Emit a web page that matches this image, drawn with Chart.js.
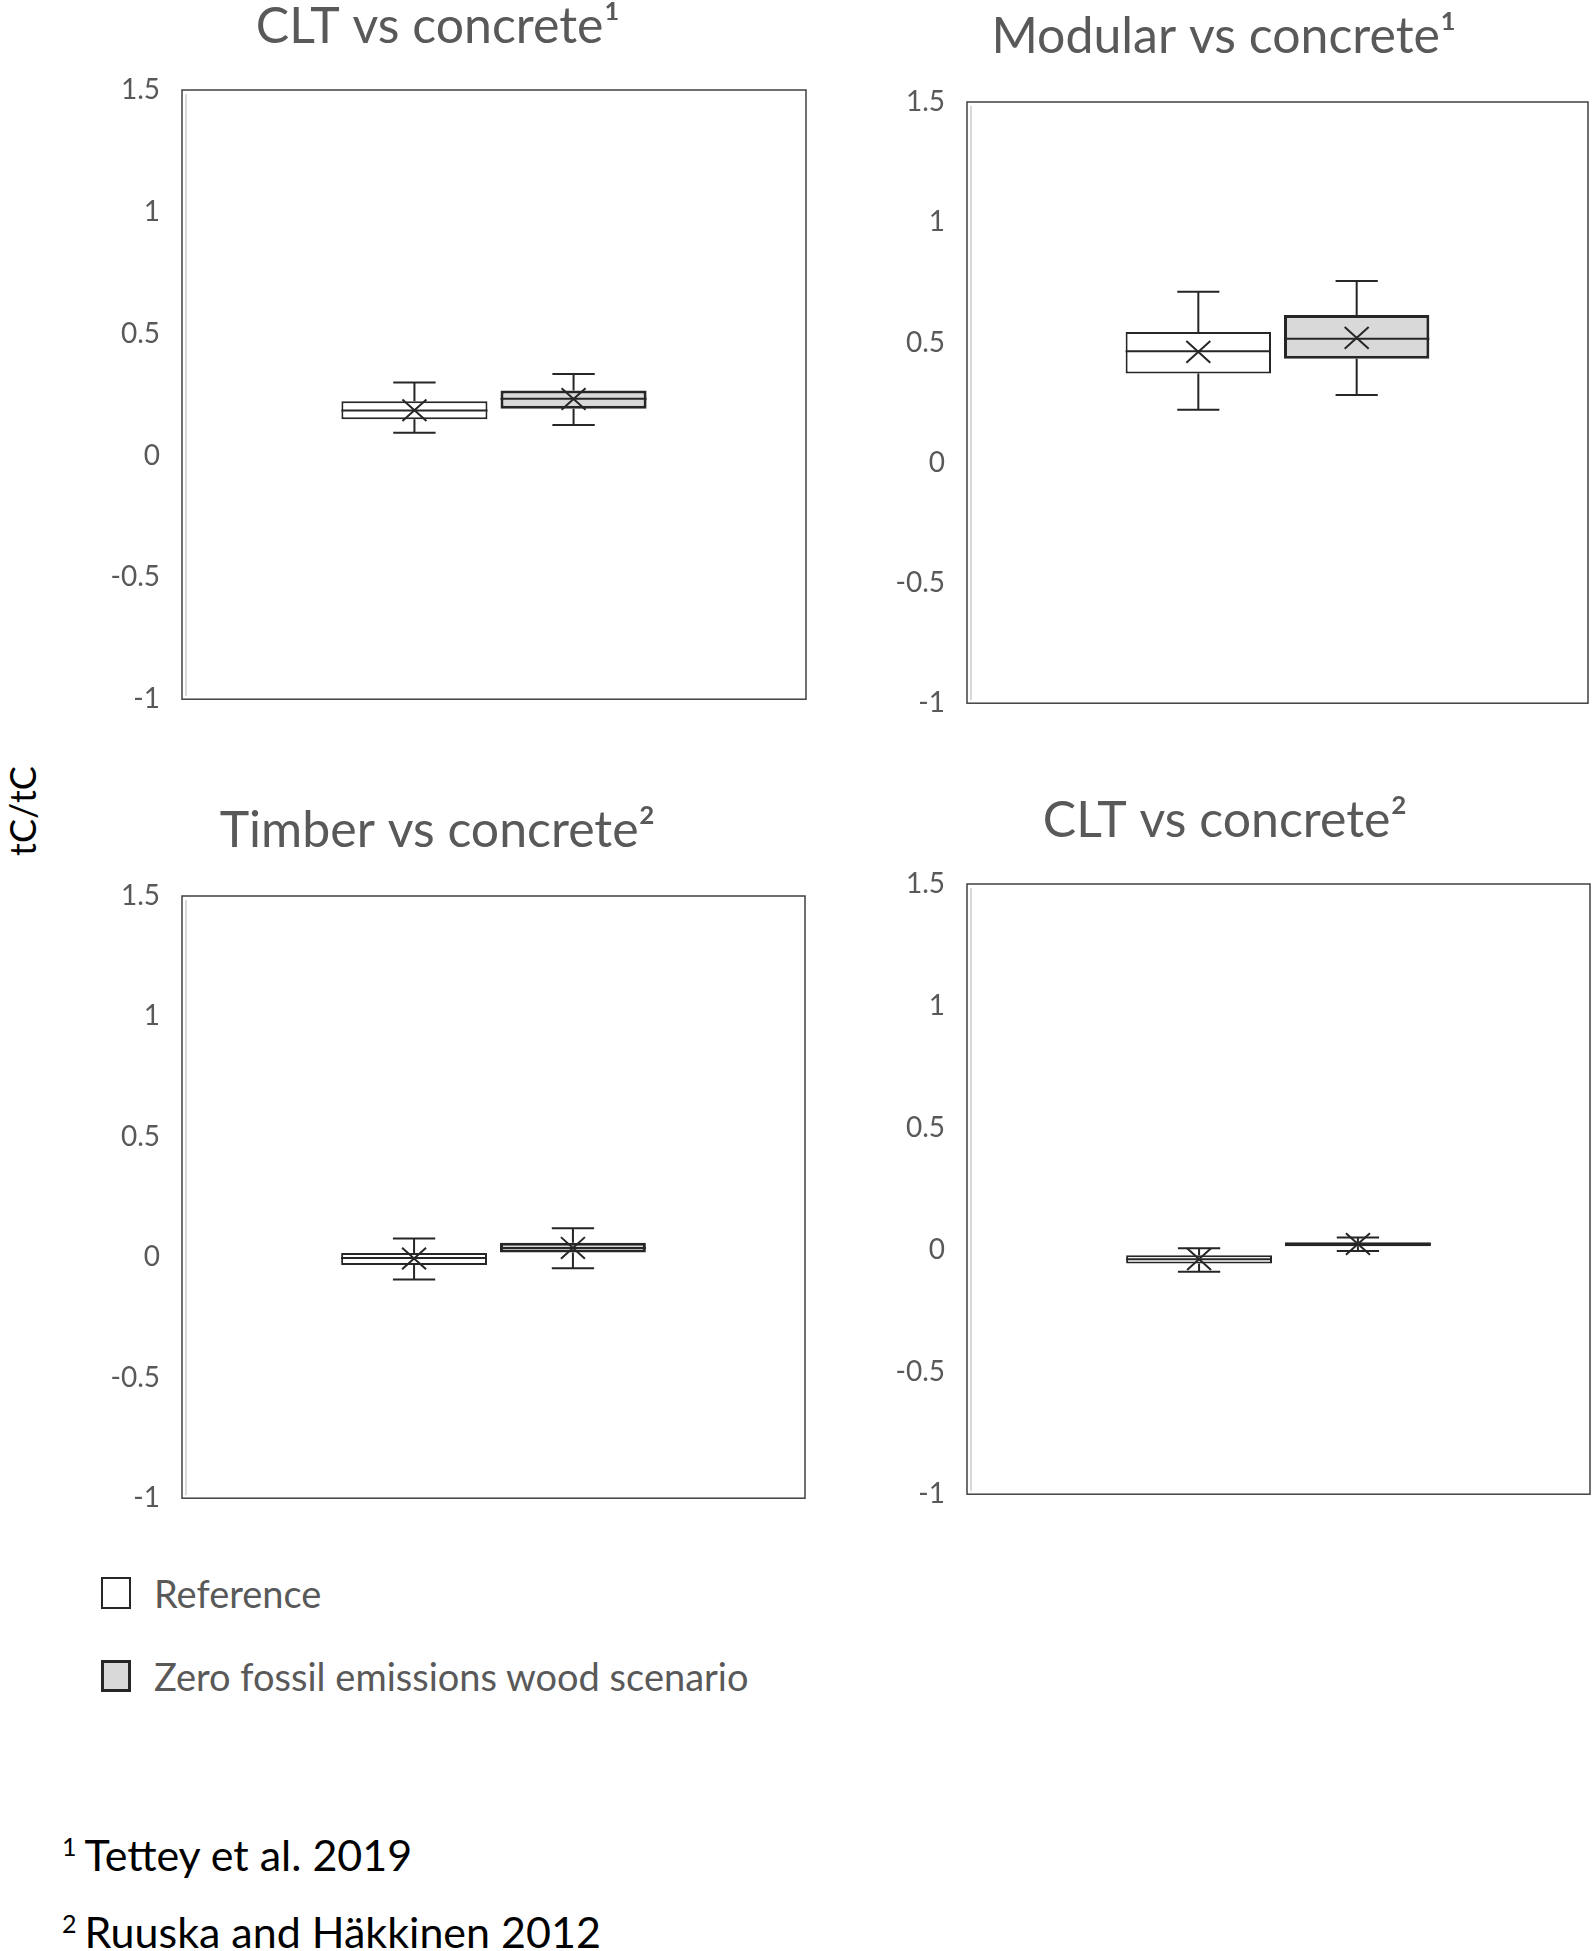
<!DOCTYPE html>
<html lang="en">
<head>
  <meta charset="UTF-8" />
  <title>tC/tC box plots</title>
  <script src="https://cdn.jsdelivr.net/npm/chart.js"></script>
  <style>
    body {
      margin: 0;
      background: #fff;
      width: 1594px;
      height: 1951px;
      position: relative;
      overflow: hidden;
      font-family: 'Lato', sans-serif;
    }
    .panel { position: absolute; }
    #ylabel {
      position: absolute;
      left: 22px;
      top: 811px;
      transform: translate(-50%, -50%) rotate(-90deg);
      font-size: 36px;
      color: #000;
      white-space: nowrap;
    }
    .legend-item {
      position: absolute;
      left: 101px;
      display: flex;
      align-items: center;
      transform: translateY(-50%);
      font-size: 38px;
      color: #595959;
      white-space: nowrap;
    }
    .swatch {
      width: 30px;
      height: 32px;
      box-sizing: border-box;
      border: 2px solid #262626;
      margin-right: 23px;
    }
    .note {
      position: absolute;
      left: 62px;
      transform: translateY(-50%);
      font-size: 43px;
      color: #000;
      white-space: nowrap;
    }
    .note sup { font-size: 25px; margin-right: 8px; }
  </style>
</head>
<body>
  <div id="ylabel">tC/tC</div>
  <div id="charts"></div>
  <div id="legend"></div>
  <div id="notes"></div>

  <script>
    // data, one entry per panel: [Reference, Zero fossil]
    const seriesNames = ['Reference', 'Zero fossil emissions wood scenario'];
    const panelTitles = ['CLT vs concrete¹', 'Modular vs concrete¹', 'Timber vs concrete²', 'CLT vs concrete²'];
    const yTicks = [-1, -0.5, 0, 0.5, 1, 1.5];
    const whiskerMin = [[0.093, 0.125], [0.220, 0.282], [-0.092, -0.045], [-0.089, -0.004]];
    const q1 = [[0.149, 0.192], [0.371, 0.432], [-0.032, 0.020], [-0.055, 0.016]];
    const median = [[0.185, 0.233], [0.464, 0.515], [-0.003, 0.039], [-0.037, 0.024]];
    const q3 = [[0.223, 0.267], [0.544, 0.614], [0.018, 0.061], [-0.021, 0.032]];
    const whiskerMax = [[0.300, 0.335], [0.711, 0.756], [0.078, 0.121], [0.008, 0.052]];
    const mean = [[0.186, 0.232], [0.461, 0.519], [-0.005, 0.039], [-0.037, 0.025]];
    const footnotes = ['Tettey et al. 2019', 'Ruuska and Häkkinen 2012'];

    const fills = ['#ffffff', '#d9d9d9'];
    const lineColor = '#262626';
    const greyText = '#595959';

    // page placement of each panel (pixels)
    const layout = [
      { left: 70,  right: 816,  plotLeft: 182, plotRight: 806,  titleY: 27,  plotTop: 90,  plotBottom: 699 },
      { left: 860, right: 1594, plotLeft: 967, plotRight: 1588, titleY: 37,  plotTop: 102, plotBottom: 703 },
      { left: 70,  right: 816,  plotLeft: 182, plotRight: 805,  titleY: 831, plotTop: 896, plotBottom: 1498 },
      { left: 860, right: 1594, plotLeft: 967, plotRight: 1590, titleY: 821, plotTop: 884, plotBottom: 1494 }
    ];
    const titleSize = 50;
    const titleH = titleSize * 1.2;
    const tickSize = 28;
    const tickPad = 22;
    // the y axis reserves half a label plus the tick padding below the plot
    const axisBottom = tickSize * 1.2 / 2 + tickPad;

    const boxParts = {
      id: 'boxParts',
      afterDatasetsDraw(chart) {
        const { ctx, chartArea: a, scales: { y } } = chart;
        const p = chart.options.plugins.boxParts.panel;
        // plot frame + faint axis line
        ctx.save();
        ctx.strokeStyle = '#404040';
        ctx.lineWidth = 1.5;
        ctx.strokeRect(a.left, a.top, a.width, a.height);
        ctx.strokeStyle = '#d9d9d9';
        ctx.lineWidth = 2;
        ctx.beginPath();
        ctx.moveTo(a.left + 4, a.top + 4);
        ctx.lineTo(a.left + 4, a.bottom - 3);
        ctx.stroke();

        chart.data.datasets.forEach((ds, i) => {
          const bar = chart.getDatasetMeta(i).data[0];
          const x = bar.x, w = bar.width, cap = w * 0.145;
          ctx.strokeStyle = lineColor;
          ctx.lineWidth = 2;
          const yMin = y.getPixelForValue(whiskerMin[p][i]);
          const yMax = y.getPixelForValue(whiskerMax[p][i]);
          const yQ1 = y.getPixelForValue(q1[p][i]);
          const yQ3 = y.getPixelForValue(q3[p][i]);
          const yMed = y.getPixelForValue(median[p][i]);
          ctx.beginPath();
          ctx.moveTo(x, yQ3); ctx.lineTo(x, yMax);
          ctx.moveTo(x - cap, yMax); ctx.lineTo(x + cap, yMax);
          ctx.moveTo(x, yQ1); ctx.lineTo(x, yMin);
          ctx.moveTo(x - cap, yMin); ctx.lineTo(x + cap, yMin);
          ctx.moveTo(x - w / 2, yMed); ctx.lineTo(x + w / 2, yMed);
          ctx.stroke();
          // mean marker
          const ym = y.getPixelForValue(mean[p][i]);
          const r = 12;
          ctx.beginPath();
          ctx.moveTo(x - r, ym - r * 0.9); ctx.lineTo(x + r, ym + r * 0.9);
          ctx.moveTo(x - r, ym + r * 0.9); ctx.lineTo(x + r, ym - r * 0.9);
          ctx.stroke();
        });
        ctx.restore();
      }
    };

    const chartsDiv = document.getElementById('charts');
    layout.forEach((L, p) => {
      const top = L.titleY - titleH / 2;
      const width = L.right - L.left;
      const height = Math.round(L.plotBottom + axisBottom - top);
      const div = document.createElement('div');
      div.className = 'panel';
      div.style.left = L.left + 'px';
      div.style.top = top + 'px';
      div.style.width = width + 'px';
      div.style.height = height + 'px';
      const canvas = document.createElement('canvas');
      canvas.width = width;
      canvas.height = height;
      div.appendChild(canvas);
      chartsDiv.appendChild(div);

      new Chart(canvas, {
        type: 'bar',
        data: {
          labels: [''],
          datasets: seriesNames.map((name, i) => ({
            label: name,
            data: [[q1[p][i], q3[p][i]]],
            backgroundColor: fills[i],
            borderColor: lineColor,
            borderWidth: i === 0 ? 2 : 3,
            borderSkipped: false,
            categoryPercentage: 0.51,
            barPercentage: 0.918
          }))
        },
        options: {
          responsive: false,
          animation: false,
          layout: { padding: { left: 0, right: L.right - L.plotRight, top: 0, bottom: 0 } },
          plugins: {
            legend: { display: false },
            tooltip: { enabled: false },
            title: {
              display: true,
              text: panelTitles[p],
              color: greyText,
              font: { family: 'Lato', size: titleSize, weight: 'normal', lineHeight: 1.2 },
              padding: { top: 0, bottom: L.plotTop - L.titleY - titleH / 2 }
            },
            boxParts: { panel: p }
          },
          scales: {
            x: { display: false },
            y: {
              min: yTicks[0],
              max: yTicks[yTicks.length - 1],
              afterBuildTicks: s => { s.ticks = yTicks.map(v => ({ value: v })); },
              afterFit: s => { s.width = L.plotLeft - L.left; },
              grid: { display: false, drawTicks: false },
              border: { display: false },
              ticks: {
                padding: tickPad,
                color: greyText,
                font: { family: 'Lato', size: tickSize, lineHeight: 1.2 },
                callback: v => String(v)
              }
            }
          }
        },
        plugins: [boxParts]
      });
    });

    // legend
    const legendY = [1593, 1676];
    const legendDiv = document.getElementById('legend');
    seriesNames.forEach((name, i) => {
      const item = document.createElement('div');
      item.className = 'legend-item';
      item.style.top = legendY[i] + 'px';
      item.innerHTML = `<span class="swatch" style="background:${fills[i]};border-width:${i === 0 ? 2 : 3}px"></span>${name}`;
      legendDiv.appendChild(item);
    });

    // footnotes
    const noteY = [1854, 1931];
    const notesDiv = document.getElementById('notes');
    footnotes.forEach((t, i) => {
      const n = document.createElement('div');
      n.className = 'note';
      n.style.top = noteY[i] + 'px';
      n.innerHTML = `<sup>${i + 1}</sup>${t}`;
      notesDiv.appendChild(n);
    });
  </script>
</body>
</html>
